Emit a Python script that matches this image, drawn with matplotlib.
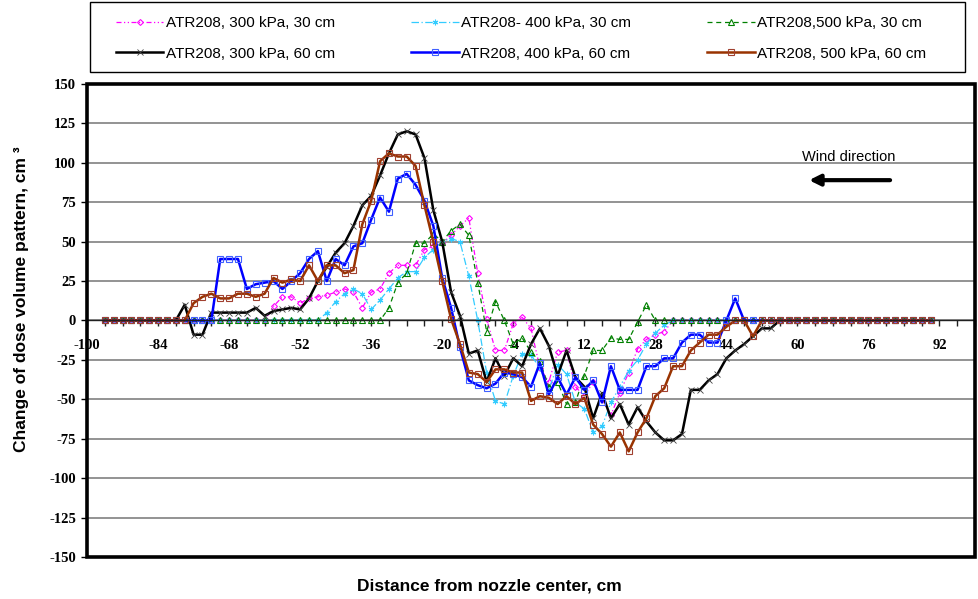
import numpy as np
import matplotlib
matplotlib.use('Agg')
import matplotlib.pyplot as plt
from matplotlib.patches import Rectangle
from matplotlib.ticker import MultipleLocator

plt.rcParams['axes.unicode_minus'] = False

# distance from nozzle center, cm (every 2 cm)
x = np.arange(-96, 92, 2)

# change of dose volume pattern, cm3
p300_30 = [0]*19 + [9, 15, 15, 11, 14, 15, 16, 18, 20, 18, 8, 18, 20, 30, 35, 35, 35, 45, 47, 49,
                    54, 60, 65, 30, 1, -19, -19, -2, 2, -5, -30, -39, -20, -19, -42, -48, -39, -50,
                    -60, -46, -33, -18, -12, -9, -7] + [0]*30
p400_30 = [0]*25 + [5, 12, 17, 20, 17, 7, 13, 20, 27, 31, 31, 40, 45, 50, 52, 50, 28, 0, -33, -51,
                    -53, -35, -21, -22, -30, -44, -28, -34, -52, -56, -71, -67, -52, -42, -32, -25,
                    -15, -8, -3] + [0]*30
p500_30 = [0]*32 + [8, 24, 30, 49, 49, 55, 50, 57, 61, 54, 24, -7, 12, 0, -15, -11, -20, -26, -42,
                    -39, -53, -52, -35, -19, -19, -11, -12, -12, -1, 10] + [0]*32
p300_60 = [0]*9 + [10, -9, -9, 5, 5, 5, 5, 5, 8, 3, 6, 7, 8, 7, 14, 25, 34, 43, 49, 60, 73, 79, 92,
                   106, 118, 120, 118, 103, 70, 50, 18, 3, -21, -19, -39, -24, -35, -24, -29, -15, -5,
                   -16, -35, -19, -36, -42, -62, -46, -62, -53, -66, -55, -64, -71, -76, -76, -72,
                   -44, -44, -38, -34, -24, -19, -15, -10, -5, -5] + [0]*18
p400_60 = [0]*13 + [39, 39, 39, 20, 23, 24, 25, 20, 25, 30, 39, 44, 25, 39, 35, 47, 49, 64, 78, 69,
                    90, 93, 86, 76, 60, 27, 8, -17, -38, -41, -43, -40, -33, -34, -36, -42, -27, -47,
                    -36, -47, -36, -44, -38, -52, -29, -44, -44, -44, -29, -29, -24, -24, -14, -9, -9,
                    -14, -14, 0, 14] + [0]*22
p500_60 = [0]*10 + [11, 15, 17, 14, 14, 17, 17, 15, 17, 27, 24, 26, 25, 35, 25, 35, 35, 30, 32, 61,
                    76, 101, 106, 104, 104, 98, 73, 50, 25, 1, -15, -33, -34, -39, -31, -31, -33, -33,
                    -51, -48, -49, -53, -48, -53, -49, -66, -72, -80, -71, -83, -71, -62, -48, -43,
                    -29, -29, -19, -14, -9, -9, -4, 0, 0, -10] + [0]*20

labels = ['ATR208, 300 kPa, 30 cm', 'ATR208- 400 kPa, 30 cm', 'ATR208,500 kPa, 30 cm',
          'ATR208, 300 kPa, 60 cm', 'ATR208, 400 kPa, 60 cm', 'ATR208, 500 kPa, 60 cm']

fig = plt.figure(figsize=(9.79, 5.99), dpi=100)
ax = fig.add_axes([0.0889, 0.0701, 0.9070, 0.7897])

l1, = ax.plot(x, p300_30, color='#FF00FF', lw=0.9, ls=(0, (4, 2, 1, 2, 1, 2)),
              marker='D', ms=3, mfc='none', mew=0.8)
l2, = ax.plot(x, p400_30, color='#33CCFF', lw=0.9, ls=(0, (6, 2, 1, 2)),
              marker=(6, 2, 0), ms=4, mew=0.8)
l3, = ax.plot(x, p500_30, color='#008000', lw=0.9, ls=(0, (4, 3)),
              marker='^', ms=4, mfc='none', mew=0.8)
l4, = ax.plot(x, p300_60, color='black', lw=1.8, marker='x', ms=4, mew=0.6, mec='#404040')
l5, = ax.plot(x, p400_60, color='#0000FF', lw=1.8, marker='s', ms=4.5, mfc='none',
              mec='#4060FF', mew=0.8)
l6, = ax.plot(x, p500_60, color='#993300', lw=1.8, marker='s', ms=4.5, mfc='none',
              mec='#A04030', mew=0.8)

ax.set_xlim(-100, 100)
ax.set_ylim(-150, 150)

# category axis crosses at zero, labels sit below it
for s in ['left', 'right', 'top']:
    ax.spines[s].set_visible(False)
ax.spines['bottom'].set_position(('data', 0))
ax.spines['bottom'].set_color('#202020')
ax.spines['bottom'].set_linewidth(1.0)
ax.add_patch(Rectangle((0, 0), 1, 1, transform=ax.transAxes, fill=False,
                       lw=2.6, ec='black', clip_on=False, zorder=5))

ax.set_xticks(np.arange(-100, 100, 16))
ax.xaxis.set_minor_locator(MultipleLocator(4))
ax.tick_params(axis='x', which='both', direction='out', length=4, width=1,
               color='#202020', pad=9)
ax.set_yticks(np.arange(-150, 151, 25))
ax.tick_params(axis='y', direction='out', length=4, width=1, pad=4)
for t in ax.get_xticklabels() + ax.get_yticklabels():
    t.set_fontfamily('Liberation Serif')
    t.set_fontweight('bold')
    t.set_fontsize(10.5)

ax.yaxis.grid(True, color='#808080', lw=1.2)
ax.set_axisbelow(True)

fig.text(0.5, 0.022, 'Distance from nozzle center, cm', ha='center', va='center',
         family='Liberation Sans', weight='bold', fontsize=12.5)
fig.text(0.022, 0.50, 'Change of dose volume pattern, cm ³', ha='center', va='center',
         rotation=90, family='Liberation Sans', weight='bold', fontsize=12.5)

# wind direction arrow
ax.text(71.5, 104, 'Wind direction', ha='center', va='center',
        family='Liberation Sans', fontsize=10.5)
ax.annotate('', xy=(62, 89), xytext=(81.5, 89),
            arrowprops=dict(arrowstyle='-|>', lw=3, color='black', mutation_scale=16))
ax.plot([67, 81.3], [89, 89], color='white', lw=0.8)

# legend box above the plot
fig.add_artist(Rectangle((90 / 979, 1 - 72 / 599), 875 / 979, 70 / 599,
                         transform=fig.transFigure, fill=False, ec='black', lw=1.0))
leg = fig.legend([l1, l4, l2, l5, l3, l6],
                 [labels[0], labels[3], labels[1], labels[4], labels[2], labels[5]],
                 ncol=3, loc='upper left', bbox_to_anchor=(116 / 979, 1 - 16 / 599),
                 frameon=False, prop={'family': 'Liberation Sans', 'size': 11},
                 handlelength=3.1, handletextpad=0.15, columnspacing=5.0,
                 borderpad=0, labelspacing=1.1, borderaxespad=0)

fig.savefig('out.png', dpi=100)
